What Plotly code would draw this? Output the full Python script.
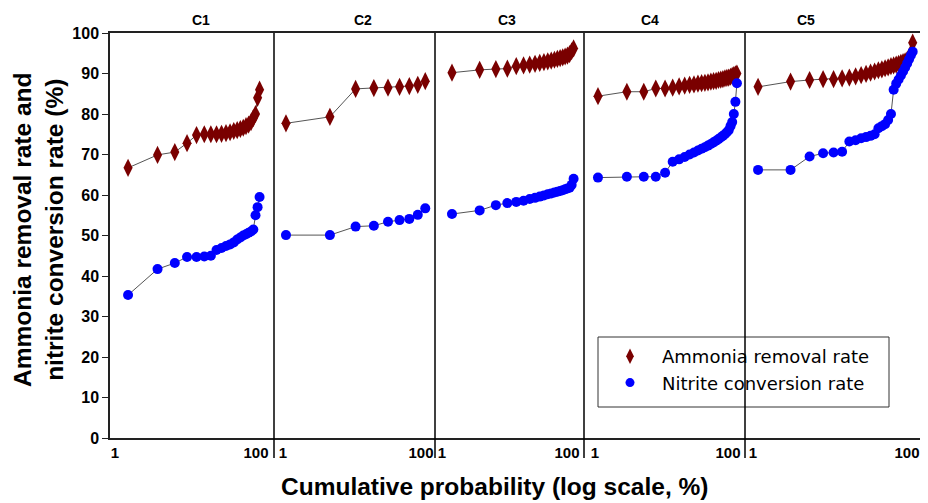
import plotly.graph_objects as go

panel_names = ["C1", "C2", "C3", "C4", "C5"]

c1_ammonia = [66.7, 69.9, 70.6, 72.8, 74.8, 75.0, 75.0, 75.0, 75.1, 75.3, 75.5,
              75.8, 76.0, 76.3, 76.6, 77.0, 77.4, 78.0, 79.0, 80.0, 84.0, 86.0]
c1_nitrite = [35.3, 41.7, 43.2, 44.7, 44.7, 44.8, 45.0, 46.4, 46.9, 47.4, 47.8,
              48.3, 49.0, 49.5, 50.0, 50.3, 50.7, 51.0, 51.5, 55.0, 57.0, 59.5]

c2_ammonia = [77.7, 79.3, 86.2, 86.4, 86.5, 86.7, 86.9, 87.2, 88.1]
c2_nitrite = [50.1, 50.1, 52.2, 52.4, 53.4, 53.8, 54.1, 55.1, 56.7]

c3_ammonia = [90.2, 90.9, 91.1, 91.2, 91.8, 92.0, 92.2, 92.4, 92.6, 92.8, 93.0,
              93.2, 93.4, 93.6, 93.8, 94.0, 94.2, 94.4, 94.8, 95.5, 96.2]
c3_nitrite = [55.3, 56.2, 57.5, 58.0, 58.3, 58.6, 59.0, 59.3, 59.6, 59.9, 60.2,
              60.4, 60.6, 60.8, 61.0, 61.2, 61.4, 61.6, 61.8, 62.5, 64.0]

c4_ammonia = [84.4, 85.5, 85.5, 86.3, 86.3, 86.5, 86.8, 87.0, 87.2, 87.3, 87.5,
              87.6, 87.7, 87.8, 88.0, 88.1, 88.2, 88.4, 88.5, 88.6, 88.8, 88.9,
              89.0, 89.2, 89.4, 89.6, 89.8, 90.0]
c4_nitrite = [64.3, 64.5, 64.5, 64.5, 65.5, 68.2, 68.8, 69.4, 70.0, 70.5, 71.0,
              71.4, 71.8, 72.2, 72.6, 73.0, 73.4, 73.8, 74.2, 74.6, 75.0, 75.5,
              76.0, 77.0, 78.0, 80.0, 83.0, 87.6]

c5_ammonia = [86.7, 88.0, 88.4, 88.6, 88.6, 88.8, 89.0, 89.3, 89.6, 89.9, 90.2,
              90.5, 90.8, 91.0, 91.3, 91.5, 91.8, 92.0, 92.2, 92.4, 92.6, 92.8,
              93.0, 93.3, 93.6, 95.0, 97.6]
c5_nitrite = [66.2, 66.2, 69.5, 70.3, 70.5, 70.7, 73.2, 73.5, 74.0, 74.3, 74.6,
              75.0, 76.5, 77.0, 77.5, 78.5, 80.0, 86.0, 87.5, 88.5, 89.5, 90.5,
              91.5, 92.5, 93.5, 94.5, 95.4]

ammonia_series = [c1_ammonia, c2_ammonia, c3_ammonia, c4_ammonia, c5_ammonia]
nitrite_series = [c1_nitrite, c2_nitrite, c3_nitrite, c4_nitrite, c5_nitrite]

legend_names = ["Ammonia removal rate", "Nitrite conversion rate"]
x_tick_labels = ["1", "100"]
y_tick_values = [0, 10, 20, 30, 40, 50, 60, 70, 80, 90, 100]

# ---------------- layout / style ----------------
W, H = 928, 503
PL, PR, PT, PB = 110, 920, 33, 438   # plot area in page pixels
ML, MR, MT, MB = PL, W - PR, PT, H - PB
PW = PR - PL
PH = PB - PT


def px2x(px):
    return (px - PL) / PW


def py2y(py):
    return (PB - py) / PH


bounds_px = [110, 274, 435, 584, 745, 920]
title_px = [190, 352, 507, 661, 817]
domains = [[px2x(bounds_px[i]), px2x(bounds_px[i + 1])] for i in range(5)]
ranges = [[0.454, 2.128], [0.918, 2.021], [0.473, 2.093], [0.392, 2.069], [0.432, 2.052]]
tick_offsets = [(5, 18), (9, 14), (7, 17), (11, 17), (8, 13)]

AMM_COLOR = "#7a0000"
NIT_COLOR = "#0000ff"
LINE_COLOR = "#555555"
FONT = "Liberation Sans, Arial, sans-serif"

fig = go.Figure()

for k in range(5):
    amm = ammonia_series[k]
    nit = nitrite_series[k]
    n = len(amm)
    prob = [100.0 * (i + 1) / (n + 1) for i in range(n)]
    xa = "x" if k == 0 else f"x{k + 1}"
    fig.add_trace(go.Scatter(
        x=prob, y=amm, xaxis=xa, yaxis="y", mode="lines+markers",
        name=legend_names[0], showlegend=False,
        line=dict(color=LINE_COLOR, width=1),
        marker=dict(symbol="diamond-tall", size=13, color=AMM_COLOR),
    ))
    fig.add_trace(go.Scatter(
        x=prob, y=nit, xaxis=xa, yaxis="y", mode="lines+markers",
        name=legend_names[1], showlegend=False,
        line=dict(color=LINE_COLOR, width=1),
        marker=dict(symbol="circle", size=10, color=NIT_COLOR),
    ))

# legend-only entries (marker without line)
fig.add_trace(go.Scatter(x=[None], y=[None], mode="markers", name=legend_names[0],
                         marker=dict(symbol="diamond-tall", size=11, color=AMM_COLOR)))
fig.add_trace(go.Scatter(x=[None], y=[None], mode="markers", name=legend_names[1],
                         marker=dict(symbol="circle", size=9, color=NIT_COLOR)))

for k in range(5):
    lo, hi = ranges[k]
    wpx = bounds_px[k + 1] - bounds_px[k]
    offL, offR = tick_offsets[k]
    tv = [10 ** (lo + (hi - lo) * offL / wpx), 10 ** (hi - (hi - lo) * offR / wpx)]
    key = "xaxis" if k == 0 else f"xaxis{k + 1}"
    fig.layout[key] = dict(
        type="log", range=[lo, hi], domain=domains[k], anchor="y",
        tickvals=tv, ticktext=x_tick_labels, ticks="",
        tickfont=dict(family=FONT, size=15, color="black", weight="bold"),
        showgrid=False, zeroline=False, showline=True, linecolor="#222222",
        linewidth=1.5, mirror=True,
    )
    fig.add_annotation(
        text=f"<b>{panel_names[k]}</b>", xref="paper", yref="paper",
        x=px2x(title_px[k]), y=1, yanchor="bottom", yshift=3,
        showarrow=False, font=dict(family=FONT, size=14, color="black"),
    )

fig.update_layout(
    width=W, height=H, margin=dict(l=ML, r=MR, t=MT, b=MB),
    paper_bgcolor="white", plot_bgcolor="white",
    yaxis=dict(
        range=[0, 100], tickvals=y_tick_values, ticks="outside", ticklen=6,
        tickcolor="#222222", showgrid=False, zeroline=False,
        showline=True, linecolor="#222222", linewidth=1.5,
        tickfont=dict(family=FONT, size=16, color="black", weight="bold"),
        anchor="x",
    ),
    legend=dict(
        x=px2x(598), y=py2y(338), xanchor="left", yanchor="top",
        bgcolor="rgba(0,0,0,0)", borderwidth=0,
        font=dict(family="DejaVu Sans, sans-serif", size=18, color="black"),
        itemwidth=54, tracegroupgap=0,
    ),
    showlegend=True,
)

# legend frame
fig.add_shape(type="rect", xref="paper", yref="paper",
              x0=px2x(598), x1=px2x(889), y0=py2y(407), y1=py2y(337),
              line=dict(color="#333333", width=1), fillcolor="white", layer="below")

# panel dividers extending below the axis
for b in bounds_px[1:-1]:
    xp = px2x(b)
    fig.add_shape(type="line", xref="paper", yref="paper", x0=xp, x1=xp,
                  y0=py2y(458), y1=1, line=dict(color="black", width=1.5))

fig.add_annotation(
    text="<b>Cumulative probability (log scale, %)</b>", xref="paper", yref="paper",
    x=px2x(494), y=py2y(487), xanchor="center", yanchor="middle",
    showarrow=False, font=dict(family=FONT, size=24.5, color="black"),
)
fig.add_annotation(
    text="<b>Ammonia removal rate and<br>nitrite conversion rate (%)</b>",
    xref="paper", yref="paper", x=px2x(39), y=py2y(230),
    xanchor="center", yanchor="middle", textangle=-90, showarrow=False,
    font=dict(family=FONT, size=24.5, color="black"),
)

fig.write_html("out.html", config={"displayModeBar": False},
               post_script="document.body.style.margin='0';document.body.style.overflow='hidden';")
